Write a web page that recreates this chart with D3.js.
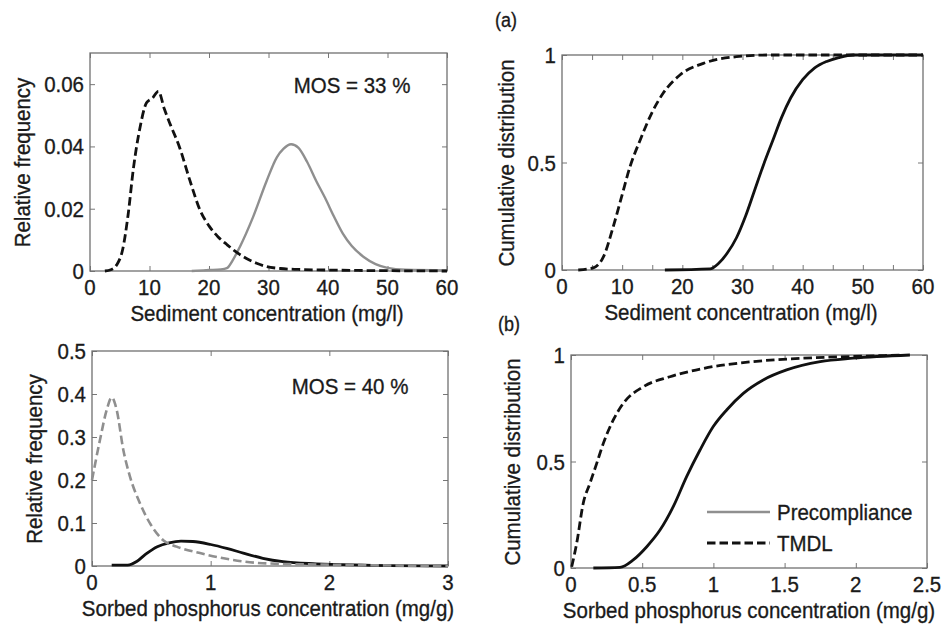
<!DOCTYPE html>
<html>
<head>
<meta charset="utf-8">
<script src="https://cdn.jsdelivr.net/npm/d3@7"></script>
<style>
  body { margin: 0; background: #fff; }
  text { font-family: Arial, "Liberation Sans", sans-serif; fill: #1a1a1a; stroke: #1a1a1a; stroke-width: 0.3px; }
</style>
</head>
<body>
<div id="chart"></div>
<script>
// data, [x, y]
var sedTmdlFreq = [[2.5,0],[3.5,0.0004],[4.5,0.002],[5.5,0.007],[6.4,0.018],[7.3,0.033],[8.4,0.046],[9.5,0.054],[10.5,0.0555],[11.5,0.0577],[12.5,0.052],[13.5,0.047],[15,0.04],[16.8,0.029],[18.5,0.0195],[20,0.0145],[21.5,0.011],[23,0.0085],[24.5,0.0062],[26.3,0.004],[28,0.0025],[29.7,0.0014],[32,0.0008],[35,0.0005],[40,0.0003],[50,0.0001],[60,0]];
var sedPreFreq = [[17.1,0],[20,0.0003],[22,0.0005],[23,0.0009],[24,0.0035],[25.2,0.0078],[27.4,0.0173],[29.7,0.029],[31.4,0.0365],[32.5,0.0392],[33.8,0.0407],[35,0.0396],[36.5,0.035],[38,0.029],[39.5,0.0235],[41,0.0175],[42.5,0.012],[44,0.008],[46,0.0045],[48,0.0022],[50,0.001],[53,0.0004],[60,0.0002]];
var sedTmdlCdf = [[2.7,0],[5.2,0.01],[6.9,0.062],[8.5,0.2],[9.9,0.34],[11.3,0.48],[13,0.605],[14.9,0.729],[16.8,0.822],[19.6,0.907],[23.5,0.961],[29,0.992],[34.6,1],[60,1]];
var sedPreCdf = [[17.1,0],[24.6,0.005],[26,0.03],[27.5,0.08],[29,0.15],[30.5,0.25],[32,0.37],[33.5,0.49],[35,0.6],[36.5,0.71],[38,0.8],[40,0.885],[42,0.94],[44,0.97],[46,0.988],[48.4,1],[60,1]];
var phosTmdlFreq = [[0,0.2],[0.067,0.293],[0.124,0.363],[0.166,0.392],[0.208,0.363],[0.264,0.27],[0.32,0.208],[0.404,0.146],[0.489,0.099],[0.6,0.06],[0.713,0.045],[0.91,0.03],[1.19,0.014],[1.47,0.006],[2.03,0.003],[3,0]];
var phosPreFreq = [[0.166,0.002],[0.3,0.002],[0.38,0.011],[0.45,0.027],[0.55,0.045],[0.65,0.054],[0.75,0.058],[0.85,0.057],[1.0,0.05],[1.135,0.041],[1.275,0.03],[1.44,0.018],[1.61,0.01],[1.89,0.005],[2.3,0.002],[3,0]];
var phosTmdlCdf = [[0.005,0.006],[0.04,0.116],[0.086,0.304],[0.133,0.398],[0.18,0.49],[0.227,0.585],[0.297,0.695],[0.367,0.773],[0.508,0.851],[0.695,0.898],[0.929,0.937],[1.28,0.969],[1.63,0.985],[1.98,0.993],[2.33,1]];
var phosPreCdf = [[0.157,0],[0.344,0.003],[0.437,0.038],[0.532,0.1],[0.625,0.178],[0.718,0.288],[0.812,0.429],[0.906,0.554],[0.999,0.664],[1.093,0.742],[1.21,0.82],[1.35,0.883],[1.514,0.93],[1.75,0.969],[1.98,0.985],[2.38,1]];

var sedTicks = [0, 10, 20, 30, 40, 50, 60];
var phosTicks1 = [0, 1, 2, 3];
var phosTicks2 = [0, 0.5, 1, 1.5, 2, 2.5];
var freqTicks1 = [0, 0.02, 0.04, 0.06];
var freqTicks2 = [0, 0.1, 0.2, 0.3, 0.4, 0.5];
var cdfTicks = [0, 0.5, 1];
var seriesNames = ["Precompliance", "TMDL"];

var w = 942, h = 625;
var FS = 20.5, STRETCH = 1.1;   // scanned lettering is a bit taller than it is wide
var DASH = "8.5,4";

var svg = d3.select("#chart").append("svg")
  .attr("width", w)
  .attr("height", h);

// text placed at (x, baseline y), optionally rotated, stretched vertically
function label(parent, x, y, str, anchor, rot, size) {
  return parent.append("text")
    .attr("transform", "translate(" + x + "," + y + ")" + (rot ? " rotate(" + rot + ")" : "") +
      " scale(1," + STRETCH + ")")
    .attr("text-anchor", anchor || "middle")
    .style("font-size", (size || FS) + "px")
    .text(str);
}

var panels = [
  { box: [90, 447, 53, 271], xd: [0, 60], yd: [0, 0.07], xt: sedTicks, yt: freqTicks1,
    xlab: "Sediment concentration (mg/l)", xlx: 267, ylab: "Relative frequency", ylx: 30,
    lines: [{ d: sedPreFreq, c: "#8f8f8f", w: 2.4, dash: null },
            { d: sedTmdlFreq, c: "#111", w: 2.8, dash: DASH }] },
  { box: [562, 923, 55, 270], xd: [0, 60], yd: [0, 1], xt: sedTicks, minor: d3.range(0, 61, 5), yt: cdfTicks,
    xlab: "Sediment concentration (mg/l)", xlx: 741, ylab: "Cumulative distribution", ylx: 514,
    lines: [{ d: sedPreCdf, c: "#111", w: 2.8, dash: null },
            { d: sedTmdlCdf, c: "#111", w: 2.8, dash: DASH }] },
  { box: [92, 448, 351, 566], xd: [0, 3], yd: [0, 0.5], xt: phosTicks1, yt: freqTicks2,
    xlab: "Sorbed phosphorus concentration (mg/g)", xlx: 268, ylab: "Relative frequency", ylx: 42,
    lines: [{ d: phosPreFreq, c: "#111", w: 2.8, dash: null },
            { d: phosTmdlFreq, c: "#8f8f8f", w: 2.6, dash: DASH }] },
  { box: [571, 927, 355, 568], xd: [0, 2.5], yd: [0, 1], xt: phosTicks2, yt: cdfTicks,
    xlab: "Sorbed phosphorus concentration (mg/g)", xlx: 749, ylab: "Cumulative distribution", ylx: 520,
    lines: [{ d: phosPreCdf, c: "#111", w: 2.8, dash: null },
            { d: phosTmdlCdf, c: "#111", w: 2.8, dash: DASH }] }
];

panels.forEach(function(p) {
  var x0 = p.box[0], x1 = p.box[1], y0 = p.box[2], y1 = p.box[3];
  var xScale = d3.scaleLinear().domain(p.xd).range([x0, x1]);
  var yScale = d3.scaleLinear().domain(p.yd).range([y1, y0]);
  var g = svg.append("g");
  var fmt = d3.format("~g");
  var tickVals = p.minor || p.xt;

  // ticks on all four sides, pointing in
  g.append("g").attr("transform", "translate(0," + y1 + ")")
    .call(d3.axisBottom(xScale).tickValues(tickVals).tickSize(-5).tickFormat(""));
  g.append("g").attr("transform", "translate(0," + y0 + ")")
    .call(d3.axisTop(xScale).tickValues(tickVals).tickSize(-5).tickFormat(""));
  g.append("g").attr("transform", "translate(" + x0 + ",0)")
    .call(d3.axisLeft(yScale).tickValues(p.yt).tickSize(-5).tickFormat(""));
  g.append("g").attr("transform", "translate(" + x1 + ",0)")
    .call(d3.axisRight(yScale).tickValues(p.yt).tickSize(-5).tickFormat(""));
  g.selectAll(".domain").remove();
  g.selectAll(".tick line").attr("stroke", "#777");

  // tick labels
  p.xt.forEach(function(v) { label(g, xScale(v), y1 + 24, fmt(v)); });
  p.yt.forEach(function(v) { label(g, x0 - 6, yScale(v) + 8, fmt(v), "end"); });

  g.append("rect")
    .attr("x", x0).attr("y", y0)
    .attr("width", x1 - x0).attr("height", y1 - y0)
    .attr("fill", "none").attr("stroke", "#707070").attr("stroke-width", 1.3);

  var line = d3.line()
    .x(function(d) { return xScale(d[0]); })
    .y(function(d) { return yScale(d[1]); })
    .curve(d3.curveMonotoneX);

  p.lines.forEach(function(s) {
    g.append("path")
      .datum(s.d)
      .attr("d", line)
      .attr("fill", "none")
      .attr("stroke", s.c)
      .attr("stroke-width", s.w)
      .attr("stroke-dasharray", s.dash);
  });

  label(g, p.xlx, y1 + 50, p.xlab);
  label(g, p.ylx, (y0 + y1) / 2 + 0.5, p.ylab, "middle", -90);
});

// annotations
label(svg, 352, 93, "MOS = 33 %");
label(svg, 350, 394, "MOS = 40 %");
label(svg, 506, 26.5, "(a)", "middle", 0, 18);
label(svg, 509, 330.5, "(b)", "middle", 0, 18);

// legend in the last panel
var legend = svg.selectAll(".legend")
  .data(seriesNames)
  .enter().append("g")
  .attr("class", "legend")
  .attr("transform", function(d, i) { return "translate(707," + (512 + i * 31) + ")"; });

legend.append("line")
  .attr("x1", 0).attr("x2", 63)
  .attr("stroke", function(d, i) { return i === 0 ? "#8f8f8f" : "#111"; })
  .attr("stroke-width", function(d, i) { return i === 0 ? 2.4 : 2.8; })
  .attr("stroke-dasharray", function(d, i) { return i === 0 ? null : DASH; });

legend.each(function(d) { label(d3.select(this), 70, 8, d, "start"); });
</script>
</body>
</html>
